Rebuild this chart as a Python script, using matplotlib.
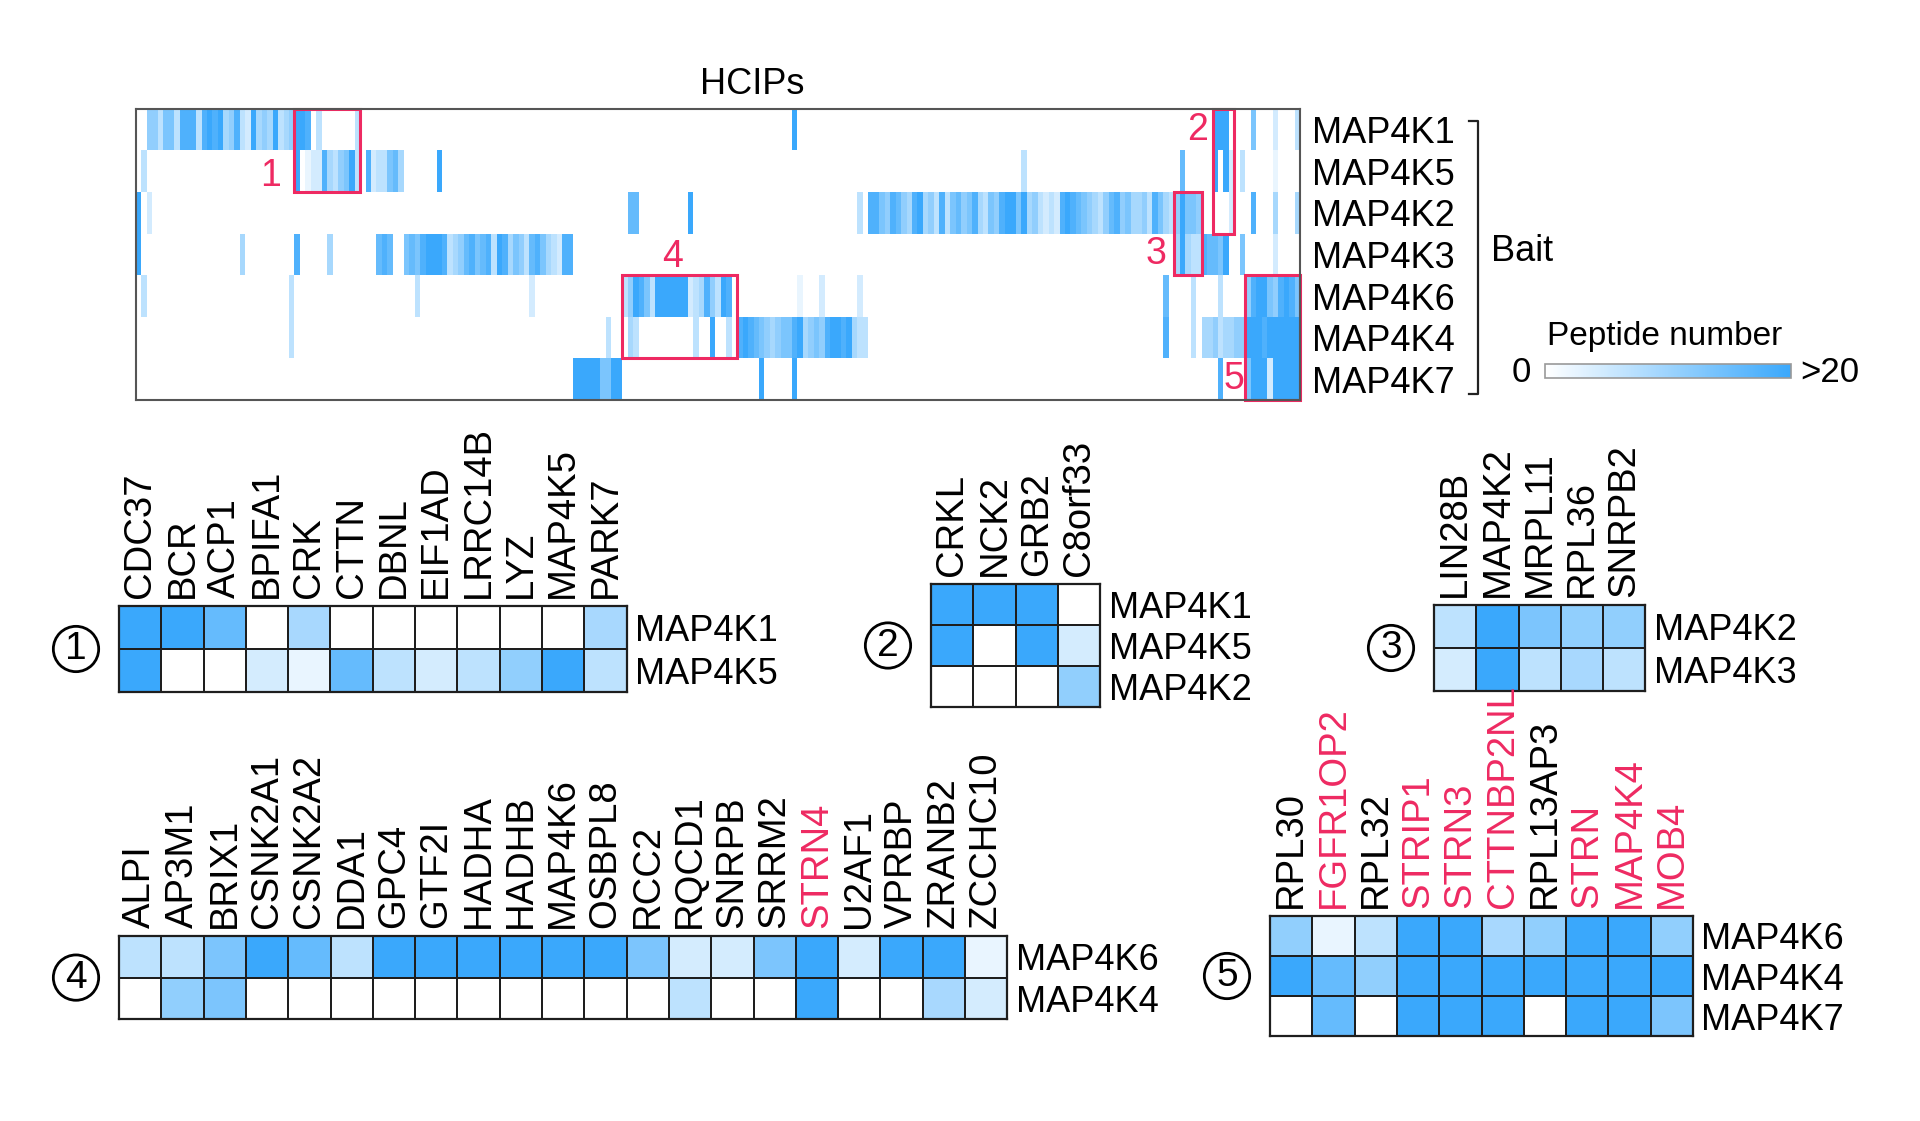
import numpy as np
import matplotlib.pyplot as plt
from matplotlib.colors import LinearSegmentedColormap, Normalize
from matplotlib.patches import Rectangle
from matplotlib.lines import Line2D
import matplotlib.cm as cm

plt.rcParams['font.family'] = ['Liberation Sans', 'DejaVu Sans']

W, H = 1920, 1121
RED = '#ee2a62'
CELL = 42.3

# bait rows of the overview heatmap
baits = ['MAP4K1', 'MAP4K5', 'MAP4K2', 'MAP4K3', 'MAP4K6', 'MAP4K4', 'MAP4K7']
n_hcip = 213

# peptide level per HCIP column (0 = none ... 9 = >20), {first column: levels}
hcip_map4k1 = {2: "553663888389894583294549345", 29: "998030000003", 120: "9",
               197: "9990", 204: "6", 208: "2", 212: "3"}
hcip_map4k5 = {1: "3", 29: "901228435693", 42: "8233674", 55: "9", 162: "3",
               191: "7", 197: "9092", 202: "3", 208: "1"}
hcip_map4k2 = {0: "9", 2: "2", 90: "77", 101: "9", 132: "3",
               134: "88658754894538367568436589969453232898765435785644538643",
               190: "59665", 197: "0002", 204: "8", 208: "4", 212: "4"}
hcip_map4k3 = {0: "9", 19: "4", 29: "8", 35: "4", 44: "787",
               49: "6768999834578678398465378643288",
               190: "49433", 195: "8776", 199: "9", 202: "6", 208: "2"}
hcip_map4k6 = {1: "3", 28: "3", 51: "3", 72: "2", 89: "359863999999234853980",
               121: "1", 125: "2", 132: "2", 188: "7", 193: "3", 198: "3",
               203: "5899658986"}
hcip_map4k4 = {28: "3", 86: "3", 89: "043000000000030090030",
               110: "898765456689456589989433", 188: "8", 193: "3",
               195: "44534455", 203: "9998999999"}
hcip_map4k7 = {80: "999996699", 114: "9", 120: "9", 198: "8", 203: "6999299999"}
hcip_rows = [hcip_map4k1, hcip_map4k5, hcip_map4k2, hcip_map4k3,
             hcip_map4k6, hcip_map4k4, hcip_map4k7]

# highlighted regions: (label, first col, n cols, first row, n rows)
boxes = [('1', 29, 12, 0, 2), ('2', 197, 4, 0, 3), ('3', 190, 5, 2, 2),
         ('4', 89, 21, 4, 2), ('5', 203, 10, 4, 3)]
box_label_pos = {'1': (24.7, 1.6), '2': (194.3, 0.5), '3': (186.6, 3.5),
                 '4': (98.2, 3.55), '5': (201.0, 6.5)}

# detail heatmaps
g1_cols = ['CDC37', 'BCR', 'ACP1', 'BPIFA1', 'CRK', 'CTTN', 'DBNL', 'EIF1AD',
           'LRRC14B', 'LYZ', 'MAP4K5', 'PARK7']
g1_rows = ['MAP4K1', 'MAP4K5']
g1_vals = [[9, 9, 7, 0, 4, 0, 0, 0, 0, 0, 0, 4],
           [9, 0, 0, 2, 1, 7, 3, 2, 3, 5, 9, 3]]

g2_cols = ['CRKL', 'NCK2', 'GRB2', 'C8orf33']
g2_rows = ['MAP4K1', 'MAP4K5', 'MAP4K2']
g2_vals = [[9, 9, 9, 0],
           [9, 0, 9, 2],
           [0, 0, 0, 5]]

g3_cols = ['LIN28B', 'MAP4K2', 'MRPL11', 'RPL36', 'SNRPB2']
g3_rows = ['MAP4K2', 'MAP4K3']
g3_vals = [[3, 9, 6, 5, 5],
           [2, 9, 3, 4, 3]]

g4_cols = ['ALPI', 'AP3M1', 'BRIX1', 'CSNK2A1', 'CSNK2A2', 'DDA1', 'GPC4', 'GTF2I',
           'HADHA', 'HADHB', 'MAP4K6', 'OSBPL8', 'RCC2', 'RQCD1', 'SNRPB', 'SRRM2',
           'STRN4', 'U2AF1', 'VPRBP', 'ZRANB2', 'ZCCHC10']
g4_rows = ['MAP4K6', 'MAP4K4']
g4_vals = [[3, 3, 6, 9, 7, 3, 9, 9, 9, 9, 9, 9, 6, 2, 2, 6, 9, 2, 9, 9, 1],
           [0, 5, 6, 0, 0, 0, 0, 0, 0, 0, 0, 0, 0, 3, 0, 0, 9, 0, 0, 4, 2]]
g4_red = ['STRN4']

g5_cols = ['RPL30', 'FGFR1OP2', 'RPL32', 'STRIP1', 'STRN3', 'CTTNBP2NL',
           'RPL13AP3', 'STRN', 'MAP4K4', 'MOB4']
g5_rows = ['MAP4K6', 'MAP4K4', 'MAP4K7']
g5_vals = [[5, 1, 3, 9, 9, 4, 5, 9, 9, 5],
           [9, 7, 5, 9, 9, 9, 9, 9, 9, 9],
           [0, 7, 0, 9, 9, 9, 0, 9, 9, 6]]
g5_red = ['FGFR1OP2', 'STRIP1', 'STRN3', 'CTTNBP2NL', 'STRN', 'MAP4K4', 'MOB4']

cmap = LinearSegmentedColormap.from_list('pep', ['#ffffff', '#3aa8fc'])


def px(left, top, w, h):
    return [left / W, 1 - (top + h) / H, w / W, h / H]


def ftext(x, y, s, **kw):
    fig.text(x / W, 1 - y / H, s, **kw)


fig = plt.figure(figsize=(W / 100, H / 100), dpi=100)

# overview heatmap
mat = np.zeros((len(baits), n_hcip))
for r, row in enumerate(hcip_rows):
    for start, levels in row.items():
        for k, ch in enumerate(levels):
            if start + k < n_hcip:
                mat[r, start + k] = int(ch)

ax = fig.add_axes(px(136, 109, 1164, 291))
ax.imshow(mat, cmap=cmap, vmin=0, vmax=9, aspect='auto', interpolation='nearest',
          extent=(0, n_hcip, len(baits), 0))
ax.set_xticks([])
ax.yaxis.tick_right()
ax.set_yticks(np.arange(len(baits)) + 0.5, baits, fontsize=26)
ax.tick_params(length=0, pad=9)
for s in ax.spines.values():
    s.set_color('#555555')
    s.set_linewidth(1.5)
for lab, c0, nc, r0, nr in boxes:
    ax.add_patch(Rectangle((c0, r0), nc, nr, fill=False, ec=RED, lw=2.2, clip_on=False))
    bx, by = box_label_pos[lab]
    ax.text(bx, by, lab, color=RED, fontsize=27, ha='center', va='center')
ftext(752, 84, 'HCIPs', fontsize=26, ha='center', va='center')

# bracket + Bait
fig.add_artist(Line2D([1469 / W, 1478 / W, 1478 / W, 1469 / W],
                      [1 - 121 / H, 1 - 121 / H, 1 - 394 / H, 1 - 394 / H],
                      color='#222222', lw=1.6))
ftext(1491, 252, 'Bait', fontsize=26, ha='left', va='center')

# colour scale
cax = fig.add_axes(px(1545, 364, 246, 14))
cb = fig.colorbar(cm.ScalarMappable(norm=Normalize(0, 9), cmap=cmap), cax=cax,
                  orientation='horizontal')
cb.set_ticks([])
cb.outline.set_edgecolor('#999999')
cb.outline.set_linewidth(1.2)
ftext(1665, 337, 'Peptide number', fontsize=24, ha='center', va='center')
ftext(1521, 372, '0', fontsize=25, ha='center', va='center')
ftext(1800, 372, '>20', fontsize=25, ha='left', va='center')


def small_map(left, top, cols, rows, vals, num, red=(), ch=CELL):
    nr, nc = len(rows), len(cols)
    a = fig.add_axes(px(left, top, nc * CELL, nr * ch))
    a.pcolormesh(np.array(vals), cmap=cmap, vmin=0, vmax=9,
                 edgecolors='#1e1e1e', linewidth=1.4)
    a.set_xlim(0, nc)
    a.set_ylim(nr, 0)
    a.xaxis.tick_top()
    a.yaxis.tick_right()
    a.set_xticks(np.arange(nc) + 0.5, cols, rotation=90, fontsize=27.5)
    a.set_yticks(np.arange(nr) + 0.5, rows, fontsize=26)
    a.tick_params(length=0, pad=6)
    for lab in a.get_xticklabels():
        if lab.get_text() in red:
            lab.set_color(RED)
    for s in a.spines.values():
        s.set_color('#1e1e1e')
        s.set_linewidth(1.6)
    ftext(left - 43, top + nr * ch / 2, num, fontsize=28, ha='center', va='center',
          bbox=dict(boxstyle='circle,pad=0.12', fc='none', ec='black', lw=2))


small_map(119, 606, g1_cols, g1_rows, g1_vals, '1', ch=43)
small_map(931, 584, g2_cols, g2_rows, g2_vals, '2', ch=41)
small_map(1434, 605, g3_cols, g3_rows, g3_vals, '3', ch=43)
small_map(119, 936, g4_cols, g4_rows, g4_vals, '4', g4_red, ch=41.6)
small_map(1270, 916, g5_cols, g5_rows, g5_vals, '5', g5_red, ch=40)

fig.savefig('out.png', dpi=100)
